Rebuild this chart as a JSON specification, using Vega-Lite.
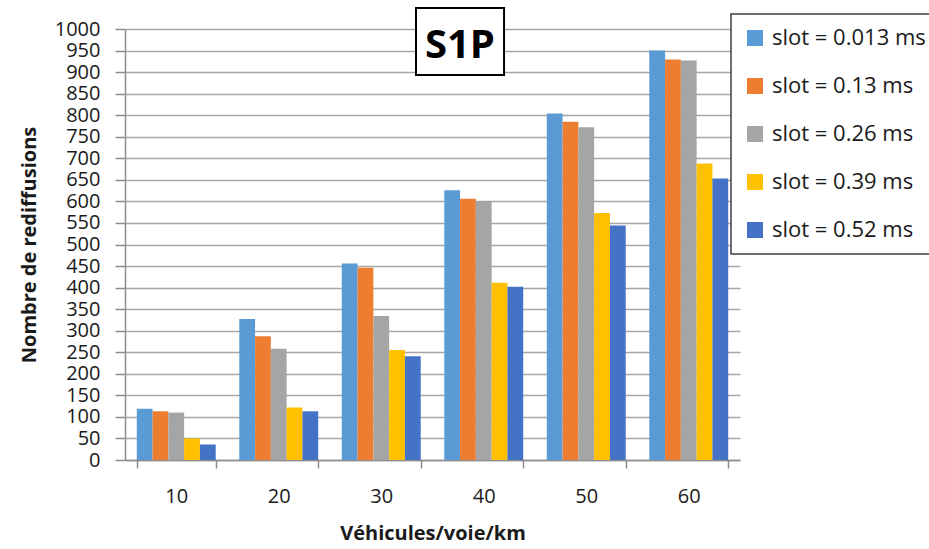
{
  "$schema": "https://vega.github.io/schema/vega-lite/v6.json",
  "autosize": "none",
  "width": 615,
  "height": 431,
  "padding": {"left": 125, "top": 29, "right": 189, "bottom": 89},
  "background": "white",
  "config": {
    "view": {"stroke": null},
    "font": "Open Sans",
    "axis": {
      "labelFont": "Open Sans",
      "labelFontSize": 20,
      "labelColor": "#1a1a1a",
      "titleFont": "Open Sans",
      "titleFontSize": 20,
      "titleFontWeight": "bold",
      "titleColor": "#1a1a1a",
      "domainColor": "#8c8c8c",
      "domainWidth": 1.5,
      "tickColor": "#8c8c8c",
      "tickWidth": 1.5,
      "gridColor": "#a6a6a6",
      "gridWidth": 1.5,
      "labelOverlap": false,
      "labelBound": false
    },
    "legend": {
      "orient": "none",
      "legendX": 606,
      "legendY": -15,
      "symbolType": "square",
      "symbolSize": 256,
      "symbolStrokeWidth": 0,
      "labelFont": "Open Sans",
      "labelFontSize": 22,
      "labelColor": "#1a1a1a",
      "labelOffset": 6,
      "rowPadding": 26,
      "padding": 13,
      "strokeColor": "#404040",
      "strokeWidth": 1.5,
      "fillColor": "white"
    }
  },
  "data": {
    "values": [
      {"density": 10, "slot": "slot = 0.013 ms", "value": 119},
      {"density": 10, "slot": "slot = 0.13 ms", "value": 113},
      {"density": 10, "slot": "slot = 0.26 ms", "value": 110},
      {"density": 10, "slot": "slot = 0.39 ms", "value": 50},
      {"density": 10, "slot": "slot = 0.52 ms", "value": 36},
      {"density": 20, "slot": "slot = 0.013 ms", "value": 327},
      {"density": 20, "slot": "slot = 0.13 ms", "value": 287},
      {"density": 20, "slot": "slot = 0.26 ms", "value": 258},
      {"density": 20, "slot": "slot = 0.39 ms", "value": 122},
      {"density": 20, "slot": "slot = 0.52 ms", "value": 113},
      {"density": 30, "slot": "slot = 0.013 ms", "value": 456},
      {"density": 30, "slot": "slot = 0.13 ms", "value": 446},
      {"density": 30, "slot": "slot = 0.26 ms", "value": 334},
      {"density": 30, "slot": "slot = 0.39 ms", "value": 255},
      {"density": 30, "slot": "slot = 0.52 ms", "value": 241},
      {"density": 40, "slot": "slot = 0.013 ms", "value": 626},
      {"density": 40, "slot": "slot = 0.13 ms", "value": 606},
      {"density": 40, "slot": "slot = 0.26 ms", "value": 601},
      {"density": 40, "slot": "slot = 0.39 ms", "value": 411},
      {"density": 40, "slot": "slot = 0.52 ms", "value": 402},
      {"density": 50, "slot": "slot = 0.013 ms", "value": 804},
      {"density": 50, "slot": "slot = 0.13 ms", "value": 785},
      {"density": 50, "slot": "slot = 0.26 ms", "value": 772},
      {"density": 50, "slot": "slot = 0.39 ms", "value": 573},
      {"density": 50, "slot": "slot = 0.52 ms", "value": 544},
      {"density": 60, "slot": "slot = 0.013 ms", "value": 950},
      {"density": 60, "slot": "slot = 0.13 ms", "value": 929},
      {"density": 60, "slot": "slot = 0.26 ms", "value": 927},
      {"density": 60, "slot": "slot = 0.39 ms", "value": 688},
      {"density": 60, "slot": "slot = 0.52 ms", "value": 653}
    ]
  },
  "layer": [
    {
      "mark": {"type": "bar"},
      "encoding": {
        "x": {
          "field": "density",
          "type": "ordinal",
          "title": "Véhicules/voie/km",
          "scale": {"paddingInner": 0.23, "paddingOuter": 0.115},
          "axis": {
            "labelAngle": 0,
            "tickBand": "extent",
            "tickSize": 8,
            "labelPadding": 18,
            "titlePadding": 17,
            "grid": false
          }
        },
        "xOffset": {
          "field": "slot",
          "type": "nominal",
          "scale": {"paddingInner": 0, "paddingOuter": 0}
        },
        "y": {
          "field": "value",
          "type": "quantitative",
          "title": "Nombre de rediffusions",
          "scale": {"domain": [0, 1000], "nice": false},
          "axis": {
            "values": [0, 50, 100, 150, 200, 250, 300, 350, 400, 450, 500, 550, 600, 650, 700, 750, 800, 850, 900, 950, 1000],
            "format": "d",
            "tickSize": 10,
            "labelPadding": 15,
            "titlePadding": 15,
            "grid": true
          }
        },
        "color": {
          "field": "slot",
          "type": "nominal",
          "title": null,
          "scale": {
            "domain": ["slot = 0.013 ms", "slot = 0.13 ms", "slot = 0.26 ms", "slot = 0.39 ms", "slot = 0.52 ms"],
            "range": ["#5b9bd5", "#ed7d31", "#a5a5a5", "#ffc000", "#4472c4"]
          }
        }
      }
    },
    {
      "data": {"values": [{"label": "S1P"}]},
      "layer": [
        {
          "mark": {"type": "rect", "fill": "white", "stroke": "black", "strokeWidth": 2},
          "encoding": {
            "x": {"datum": 2.839, "type": "quantitative", "scale": {"domain": [0, 6], "nice": false, "zero": false}, "axis": null},
            "x2": {"datum": 3.698},
            "y": {"datum": 1049, "type": "quantitative", "scale": {"domain": [0, 1000], "nice": false}, "axis": null},
            "y2": {"datum": 893}
          }
        },
        {
          "mark": {"type": "text", "font": "Open Sans", "fontSize": 40, "fontWeight": "bold", "color": "black", "align": "center", "baseline": "alphabetic"},
          "encoding": {
            "x": {"datum": 3.268, "type": "quantitative", "scale": {"domain": [0, 6], "nice": false, "zero": false}, "axis": null},
            "y": {"datum": 933, "type": "quantitative", "scale": {"domain": [0, 1000], "nice": false}, "axis": null},
            "text": {"field": "label"}
          }
        }
      ]
    }
  ],
  "resolve": {"scale": {"x": "independent", "y": "independent"}, "axis": {"x": "independent", "y": "independent"}}
}
